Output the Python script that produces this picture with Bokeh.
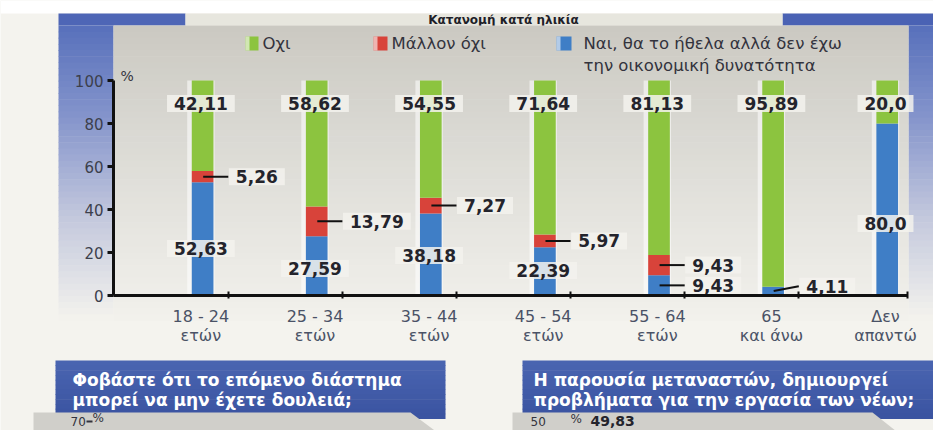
import numpy as np
from bokeh.plotting import figure
from bokeh.models import ColumnDataSource, LinearAxis, FixedTicker, Range1d
from bokeh.core.properties import value
from bokeh.embed import file_html
from bokeh.resources import INLINE

# ---------------- data ----------------
age_groups = ["18 - 24\nετών", "25 - 34\nετών", "35 - 44\nετών", "45 - 54\nετών",
              "55 - 64\nετών", "65\nκαι άνω", "Δεν\nαπαντώ"]
yes_but_cannot = [52.63, 27.59, 38.18, 22.39, 9.43, 4.11, 80.0]   # blue
rather_not = [5.26, 13.79, 7.27, 5.97, 9.43, 0.0, 0.0]            # red
not_at_all = [42.11, 58.62, 54.55, 71.64, 81.13, 95.89, 20.0]     # green
series_names = ["Οχι", "Μάλλον όχι",
                "Ναι, θα το ήθελα αλλά δεν έχω\nτην οικονομική δυνατότητα"]
y_ticks = [0, 20, 40, 60, 80, 100]
chart_title = "Κατανομή κατά ηλικία"
question_left = ["Φοβάστε ότι το επόμενο διάστημα", "μπορεί να μην έχετε δουλειά;"]
question_right = ["Η παρουσία μεταναστών, δημιουργεί", "προβλήματα για την εργασία των νέων;"]
next_left_tick = "70"
next_right_tick = "50"
next_right_value = 49.83

# ---------------- layout / style ----------------
W, H = 933, 430
XC0, XS = 200.4, 114.1     # px of first category, px per category
Y0, YS = 295.0, 2.15       # px of value 0, px per percent


def X(px):
    return (px - XC0) / XS


def Y(py):
    return (Y0 - py) / YS


GREEN, RED, BLUE = "#8cc43f", "#d8433a", "#3f7ec6"
BG = "#f4f3ee"
FONT = "DejaVu Sans"


def fmt(v):
    s = f"{v:.1f}" if abs(v - round(v)) < 1e-9 else f"{v:.2f}"
    return s.replace(".", ",")


def hex2rgb(c):
    c = c.lstrip("#")
    return np.array([int(c[i:i + 2], 16) for i in (0, 2, 4)], dtype=float)


def interp(stops, t):
    for (t0, c0), (t1, c1) in zip(stops[:-1], stops[1:]):
        if t0 <= t <= t1:
            u = 0 if t1 == t0 else (t - t0) / (t1 - t0)
            rgb = hex2rgb(c0) * (1 - u) + hex2rgb(c1) * u
            return "#%02x%02x%02x" % tuple(int(round(v)) for v in rgb)
    return stops[-1][1]


p = figure(width=W, height=H, x_range=Range1d(X(0), X(W)),
           y_range=Range1d(Y(H), Y(0)),
           x_axis_type=None, y_axis_type=None, toolbar_location=None,
           output_backend="svg", min_border=0, outline_line_color=None,
           background_fill_color=BG, border_fill_color=BG)
p.xgrid.visible = False
p.ygrid.visible = False


def grad(x0, x1, y0, y1, stops, n=48):
    L, R, T, B, C = [], [], [], [], []
    for k in range(n):
        ya = y0 + (y1 - y0) * k / n
        yb = y0 + (y1 - y0) * (k + 1) / n + 0.6
        L.append(X(x0)); R.append(X(x1)); T.append(Y(ya)); B.append(Y(yb))
        C.append(interp(stops, (k + 0.5) / n))
    p.quad(left=L, right=R, top=T, bottom=B, fill_color=C, line_color=None)


def box(x0, x1, y0, y1, color, alpha=1.0):
    p.quad(left=[X(x0)], right=[X(x1)], top=[Y(y0)], bottom=[Y(y1)],
           fill_color=color, fill_alpha=alpha, line_color=None)


box(0, W, 0, 13, "#ffffff")
blue_stops = [(0, "#5870bb"), (0.3, "#8393cb"), (0.65, "#c3c8dd"), (1, BG)]
# side blue panels
box(58, 185, 13, 25, "#4e66b6")
grad(58, 113, 25, 320, blue_stops)
box(782, 938, 13, 25, "#4a62b4")
grad(908, 938, 25, 320, blue_stops)
# title strip
box(185, 782, 13, 25, "#e7e6de")
p.text(x=[X(503)], y=[Y(19.5)], text=[chart_title], text_align="center",
       text_baseline="middle", text_font=value(FONT), text_font_style="bold",
       text_font_size="12px", text_color="#1e1e28")
# chart panel
grad(113, 908, 25, 320, [(0, "#cbc9c2"), (0.3, "#d7d6d0"), (0.7, "#e7e6e1"), (1, "#f2f1ec")])

# ---------------- legend ----------------
sw_x = [(245, 258), (373, 387), (556, 571)]
sw_c = [GREEN, RED, BLUE]
txt_x = [262, 391, 583]
for (a, b), c in zip(sw_x, sw_c):
    box(a, b, 36, 50, c)
    box(a, a + 4, 36, 50, "#ffffff", 0.6)
p.text(x=[X(v) for v in txt_x], y=[Y(33)] * 3, text=series_names,
       text_align="left", text_baseline="top", text_font=value(FONT),
       text_font_size="16.5px", text_color="#33333d", text_line_height=1.2)

# ---------------- bars ----------------
n = len(age_groups)
xs = np.arange(n, dtype=float)
blue = np.array(yes_but_cannot)
red = np.array(rather_not)
green = np.array(not_at_all)
src = ColumnDataSource(dict(x=xs, xb=xs + 0.015, zero=np.zeros(n),
                            b1=blue, r1=blue + red, g1=blue + red + green))
p.vbar(x="x", width=0.24, bottom="zero", top="g1", source=src,
       fill_color="#ffffff", fill_alpha=0.55, line_color=None)
p.vbar(x="xb", width=0.19, bottom="zero", top="b1", source=src,
       fill_color=BLUE, line_color=None)
p.vbar(x="xb", width=0.19, bottom="b1", top="r1", source=src,
       fill_color=RED, line_color=None)
p.vbar(x="xb", width=0.19, bottom="r1", top="g1", source=src,
       fill_color=GREEN, line_color=None)

label_style = dict(text_font=value(FONT), text_font_style="bold",
                   text_font_size="17px", text_color="#24242c",
                   background_fill_color="#f3f2ed", background_fill_alpha=0.85,
                   padding=(7, 2))

# green labels (top)
p.text(x=xs, y=[Y(103)] * n, text=[fmt(v) for v in green],
       text_align="center", text_baseline="middle", **label_style)

# blue labels placed inside the bars
inside_blue_y = {0: 21.9, 1: 12.6, 2: 18.6, 3: 11.6, 6: 33.5}
ib = sorted(inside_blue_y)
p.text(x=[xs[i] for i in ib], y=[inside_blue_y[i] for i in ib],
       text=[fmt(blue[i]) for i in ib], text_align="center",
       text_baseline="middle", **label_style)

# leader labels: red segments and thin blue segments
lead_x, lead_mid, lead_y, lead_t = [], [], [], []
for i in range(n):
    if red[i] > 0:
        m = blue[i] + red[i] / 2
        lead_x.append(xs[i]); lead_mid.append(m); lead_y.append(m)
        lead_t.append(fmt(red[i]))
for i in range(n):
    if i not in inside_blue_y:
        m = blue[i] / 2
        lift = 2.2 if red[i] == 0 else 0.0
        lead_x.append(xs[i]); lead_mid.append(m); lead_y.append(m + lift)
        lead_t.append(fmt(blue[i]))
lead_x = np.array(lead_x)
p.text(x=lead_x + 0.245, y=lead_y, text=lead_t, text_align="left",
       text_baseline="middle", **label_style)
p.segment(x0=lead_x + 0.02, y0=lead_mid, x1=lead_x + 0.24, y1=lead_y,
          line_color="#111111", line_width=2)

# ---------------- axes ----------------
yax = LinearAxis(fixed_location=X(113), bounds=(0, 100),
                 ticker=FixedTicker(ticks=y_ticks, minor_ticks=[]))
yax.axis_line_width = 3
yax.axis_line_color = "#111111"
yax.major_tick_out = 6
yax.major_tick_in = 0
yax.major_tick_line_width = 3
yax.major_tick_line_color = "#111111"
yax.minor_tick_out = 0
yax.major_label_standoff = 4
yax.major_label_text_font = FONT
yax.major_label_text_font_size = "15px"
yax.major_label_text_color = "#3c404c"
p.add_layout(yax, "left")

xax = LinearAxis(fixed_location=0, bounds=(X(113), X(907)),
                 ticker=FixedTicker(ticks=list(xs),
                                    minor_ticks=[v + 0.24 for v in xs[:-1]] + [X(907)]))
xax.axis_line_width = 3
xax.axis_line_color = "#111111"
xax.major_tick_out = 0
xax.major_tick_in = 0
xax.minor_tick_in = 4
xax.minor_tick_out = 3
xax.minor_tick_line_width = 2
xax.minor_tick_line_color = "#111111"
xax.major_label_standoff = 8
xax.major_label_overrides = {i: age_groups[i] for i in range(n)}
xax.major_label_text_font = FONT
xax.major_label_text_font_size = "16px"
xax.major_label_text_color = "#4a5266"
xax.major_label_text_line_height = 1.0
p.add_layout(xax, "below")

p.text(x=[X(120)], y=[Y(75)], text=["%"], text_align="left", text_baseline="middle",
       text_font=value(FONT), text_font_size="14px", text_color="#33333d")

# ---------------- lower panels (next charts, cropped) ----------------
hdr_stops = [(0, "#4a65b1"), (1, "#3a53a0")]
grad(55, 445, 360, 418, hdr_stops, n=12)
grad(522, 940, 360, 418, hdr_stops, n=12)
p.patch(x=[X(33), X(410), X(445), X(33)], y=[Y(412), Y(412), Y(438), Y(438)],
        fill_color="#d0cfca", line_color=None)
p.patch(x=[X(512), X(872), X(905), X(512)], y=[Y(412), Y(412), Y(438), Y(438)],
        fill_color="#d0cfca", line_color=None)
p.text(x=[X(72)] * 2, y=[Y(379), Y(399)], text=question_left, text_align="left",
       text_baseline="middle", text_font=value(FONT), text_font_style="bold",
       text_font_size="17px", text_color="#ffffff")
p.text(x=[X(533)] * 2, y=[Y(379), Y(399)], text=question_right, text_align="left",
       text_baseline="middle", text_font=value(FONT), text_font_style="bold",
       text_font_size="17px", text_color="#ffffff")
p.text(x=[X(70)], y=[Y(421)], text=[next_left_tick], text_align="left",
       text_baseline="middle", text_font=value(FONT), text_font_size="12px",
       text_color="#33333d")
p.segment(x0=[X(86)], y0=[Y(421)], x1=[X(92)], y1=[Y(421)],
          line_color="#33333d", line_width=2)
p.text(x=[X(92)], y=[Y(417)], text=["%"], text_align="left", text_baseline="middle",
       text_font=value(FONT), text_font_size="12px", text_color="#33333d")
p.text(x=[X(530)], y=[Y(421)], text=[next_right_tick], text_align="left",
       text_baseline="middle", text_font=value(FONT), text_font_size="12px",
       text_color="#33333d")
p.text(x=[X(570)], y=[Y(418)], text=["%"], text_align="left", text_baseline="middle",
       text_font=value(FONT), text_font_size="12px", text_color="#33333d")
p.text(x=[X(590)], y=[Y(420)], text=[fmt(next_right_value)], text_align="left",
       text_baseline="middle", text_font=value(FONT), text_font_style="bold",
       text_font_size="14px", text_color="#24242c")

open("out.html", "w").write(file_html(p, INLINE))
